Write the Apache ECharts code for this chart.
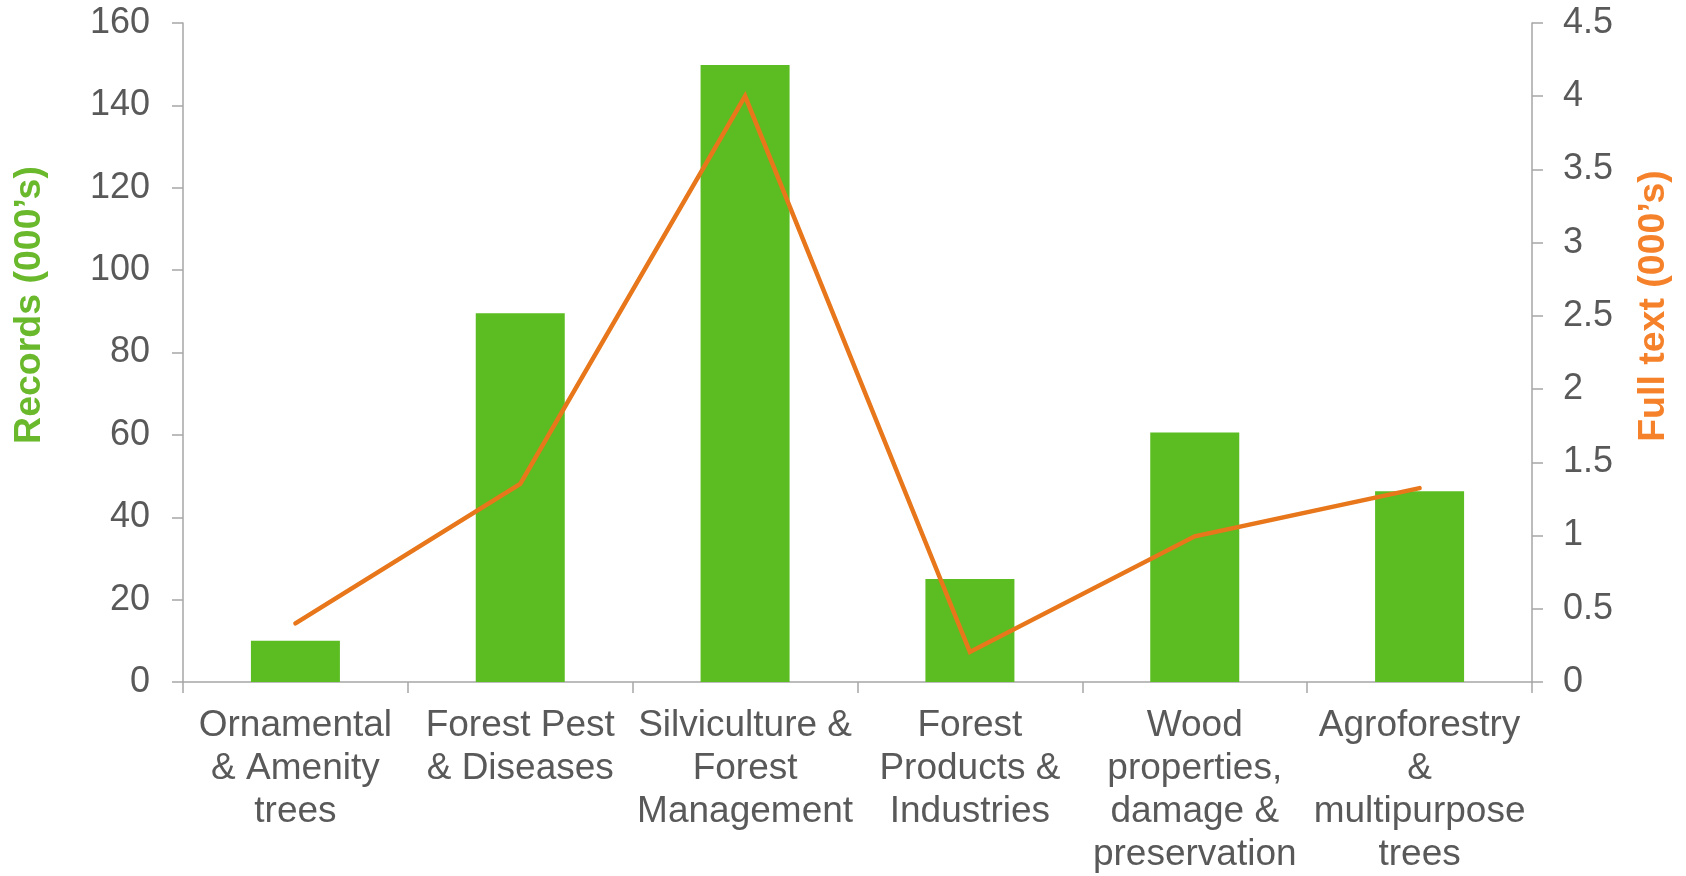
<!DOCTYPE html>
<html>
<head>
<meta charset="utf-8">
<script src="https://cdn.jsdelivr.net/npm/echarts@6/dist/echarts.min.js"></script>
<style>
html,body{margin:0;padding:0;background:#fff;}
#c{width:1686px;height:876px;}
</style>
</head>
<body>
<div id="c"></div>
<script>
var categories = [
  "Ornamental\n& Amenity\ntrees",
  "Forest Pest\n& Diseases",
  "Silviculture &\nForest\nManagement",
  "Forest\nProducts &\nIndustries",
  "Wood\nproperties,\ndamage &\npreservation",
  "Agroforestry\n&\nmultipurpose\ntrees"
];
var records = [10, 89.5, 149.8, 25, 60.6, 46.3];
var fullText = [0.4, 1.353, 4.0, 0.205, 0.995, 1.324];
var leftTicks = {min: 0, max: 160, interval: 20};
var rightTicks = {min: 0, max: 4.5, interval: 0.5};

var FONT = "'Liberation Sans', Arial, sans-serif";
var axisGrey = '#A6A6A6';
var labelGrey = '#595959';

var chart = echarts.init(document.getElementById('c'), null, {renderer: 'canvas'});
chart.setOption({
  animation: false,
  backgroundColor: '#fff',
  grid: {left: 183, right: 154, top: 23, bottom: 191, containLabel: false},
  xAxis: {
    type: 'category',
    data: categories,
    axisLine: {lineStyle: {color: axisGrey, width: 1.5}},
    axisTick: {show: true, length: 11, lineStyle: {color: axisGrey, width: 1.5}},
    axisLabel: {interval: 0, margin: 22, color: labelGrey, fontSize: 37, lineHeight: 43, fontFamily: FONT, align: 'center'}
  },
  yAxis: [
    {
      type: 'value', min: leftTicks.min, max: leftTicks.max, interval: leftTicks.interval,
      axisLine: {show: true, lineStyle: {color: axisGrey, width: 1.5}},
      axisTick: {show: true, length: 11, lineStyle: {color: axisGrey, width: 1.5}},
      splitLine: {show: false},
      axisLabel: {margin: 33, color: labelGrey, fontSize: 36, fontFamily: FONT}
    },
    {
      type: 'value', min: rightTicks.min, max: rightTicks.max, interval: rightTicks.interval,
      position: 'right',
      axisLine: {show: true, lineStyle: {color: axisGrey, width: 1.5}},
      axisTick: {show: true, length: 11, lineStyle: {color: axisGrey, width: 1.5}},
      splitLine: {show: false},
      axisLabel: {margin: 31, color: labelGrey, fontSize: 36, fontFamily: FONT}
    }
  ],
  graphic: [
    {type: 'text', x: 30, y: 305, rotation: Math.PI/2,
     style: {text: 'Records (000’s)', fill: '#6AB82B', font: 'bold 37.5px ' + FONT, textAlign: 'center', textVerticalAlign: 'middle'}},
    {type: 'text', x: 1654, y: 306, rotation: Math.PI/2,
     style: {text: 'Full text (000’s)', fill: '#F5822A', font: 'bold 37.5px ' + FONT, textAlign: 'center', textVerticalAlign: 'middle'}}
  ],
  series: [
    {
      type: 'bar', data: records, yAxisIndex: 0,
      barWidth: 89,
      itemStyle: {color: '#5BBD22'}
    },
    {
      type: 'line', data: fullText, yAxisIndex: 1,
      symbol: 'none',
      lineStyle: {color: '#E8761A', width: 4.5, cap: 'round', join: 'miter'}
    }
  ]
});
</script>
</body>
</html>
